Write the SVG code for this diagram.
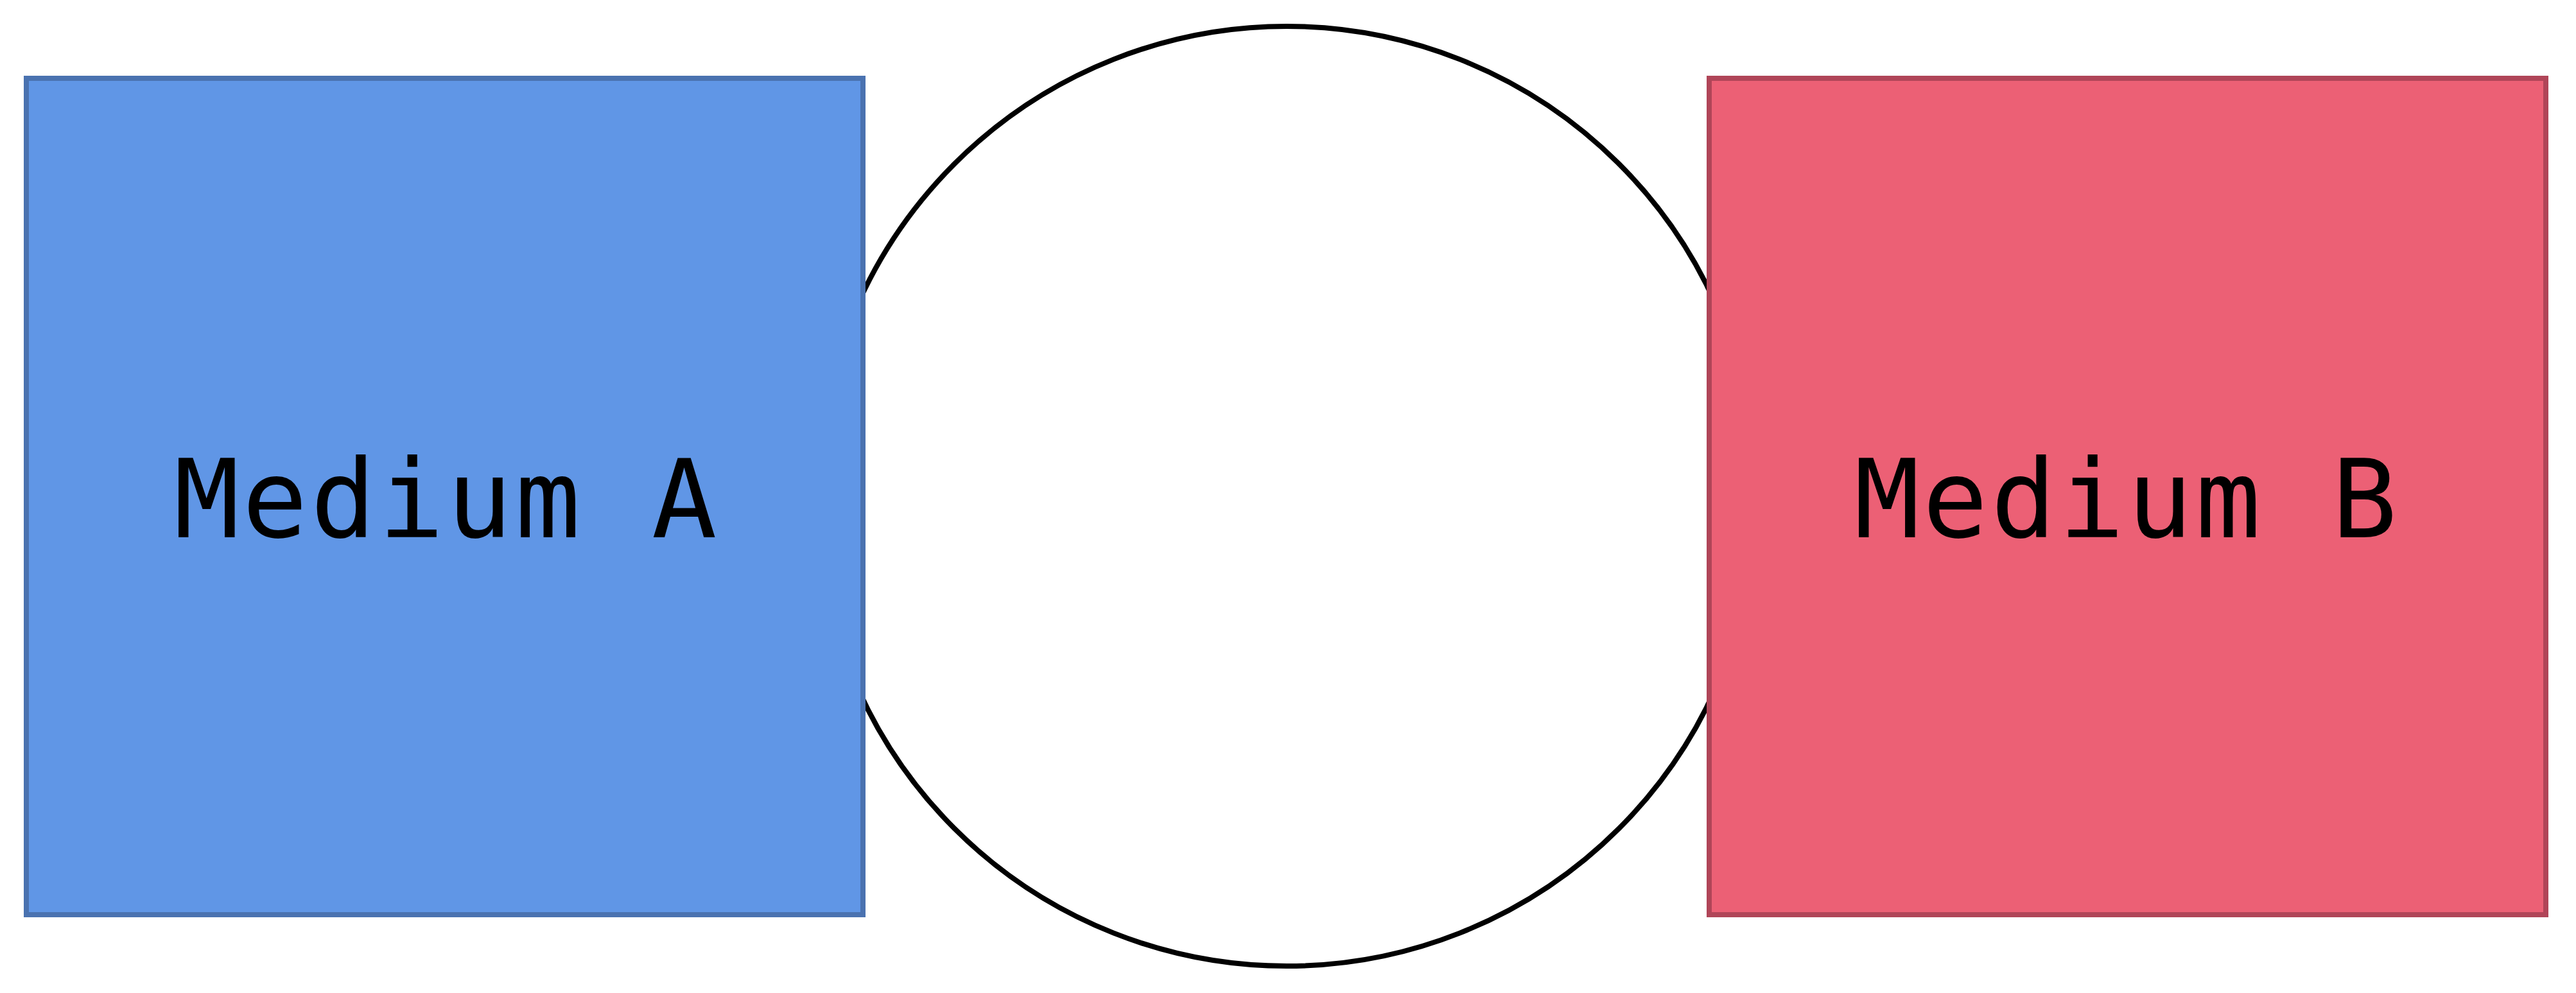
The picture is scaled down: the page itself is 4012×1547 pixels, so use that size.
<svg xmlns="http://www.w3.org/2000/svg" width="4012" height="1547" viewBox="0 0 4012 1547">
<style>
.lbl{font-family:"DejaVu Sans Mono",monospace;font-size:169px;letter-spacing:4.5px;fill:#000;text-anchor:middle}
</style>
<rect x="0" y="0" width="4012" height="1547" fill="#fff"/>
<g id="connectors"></g>
<g id="circle"><circle cx="2004" cy="773" r="732" fill="#fff" stroke="#000" stroke-width="8"/></g>
<g id="mediumA"><rect x="41" y="122" width="1303" height="1303" fill="#6096e6" stroke="#4a72b0" stroke-width="8"/><text class="lbl" x="696" y="837">Medium A</text></g>
<g id="mediumB"><rect x="2662" y="122" width="1303" height="1303" fill="#ec6075" stroke="#b04558" stroke-width="8"/><text class="lbl" x="3313" y="837">Medium B</text></g>
</svg>
